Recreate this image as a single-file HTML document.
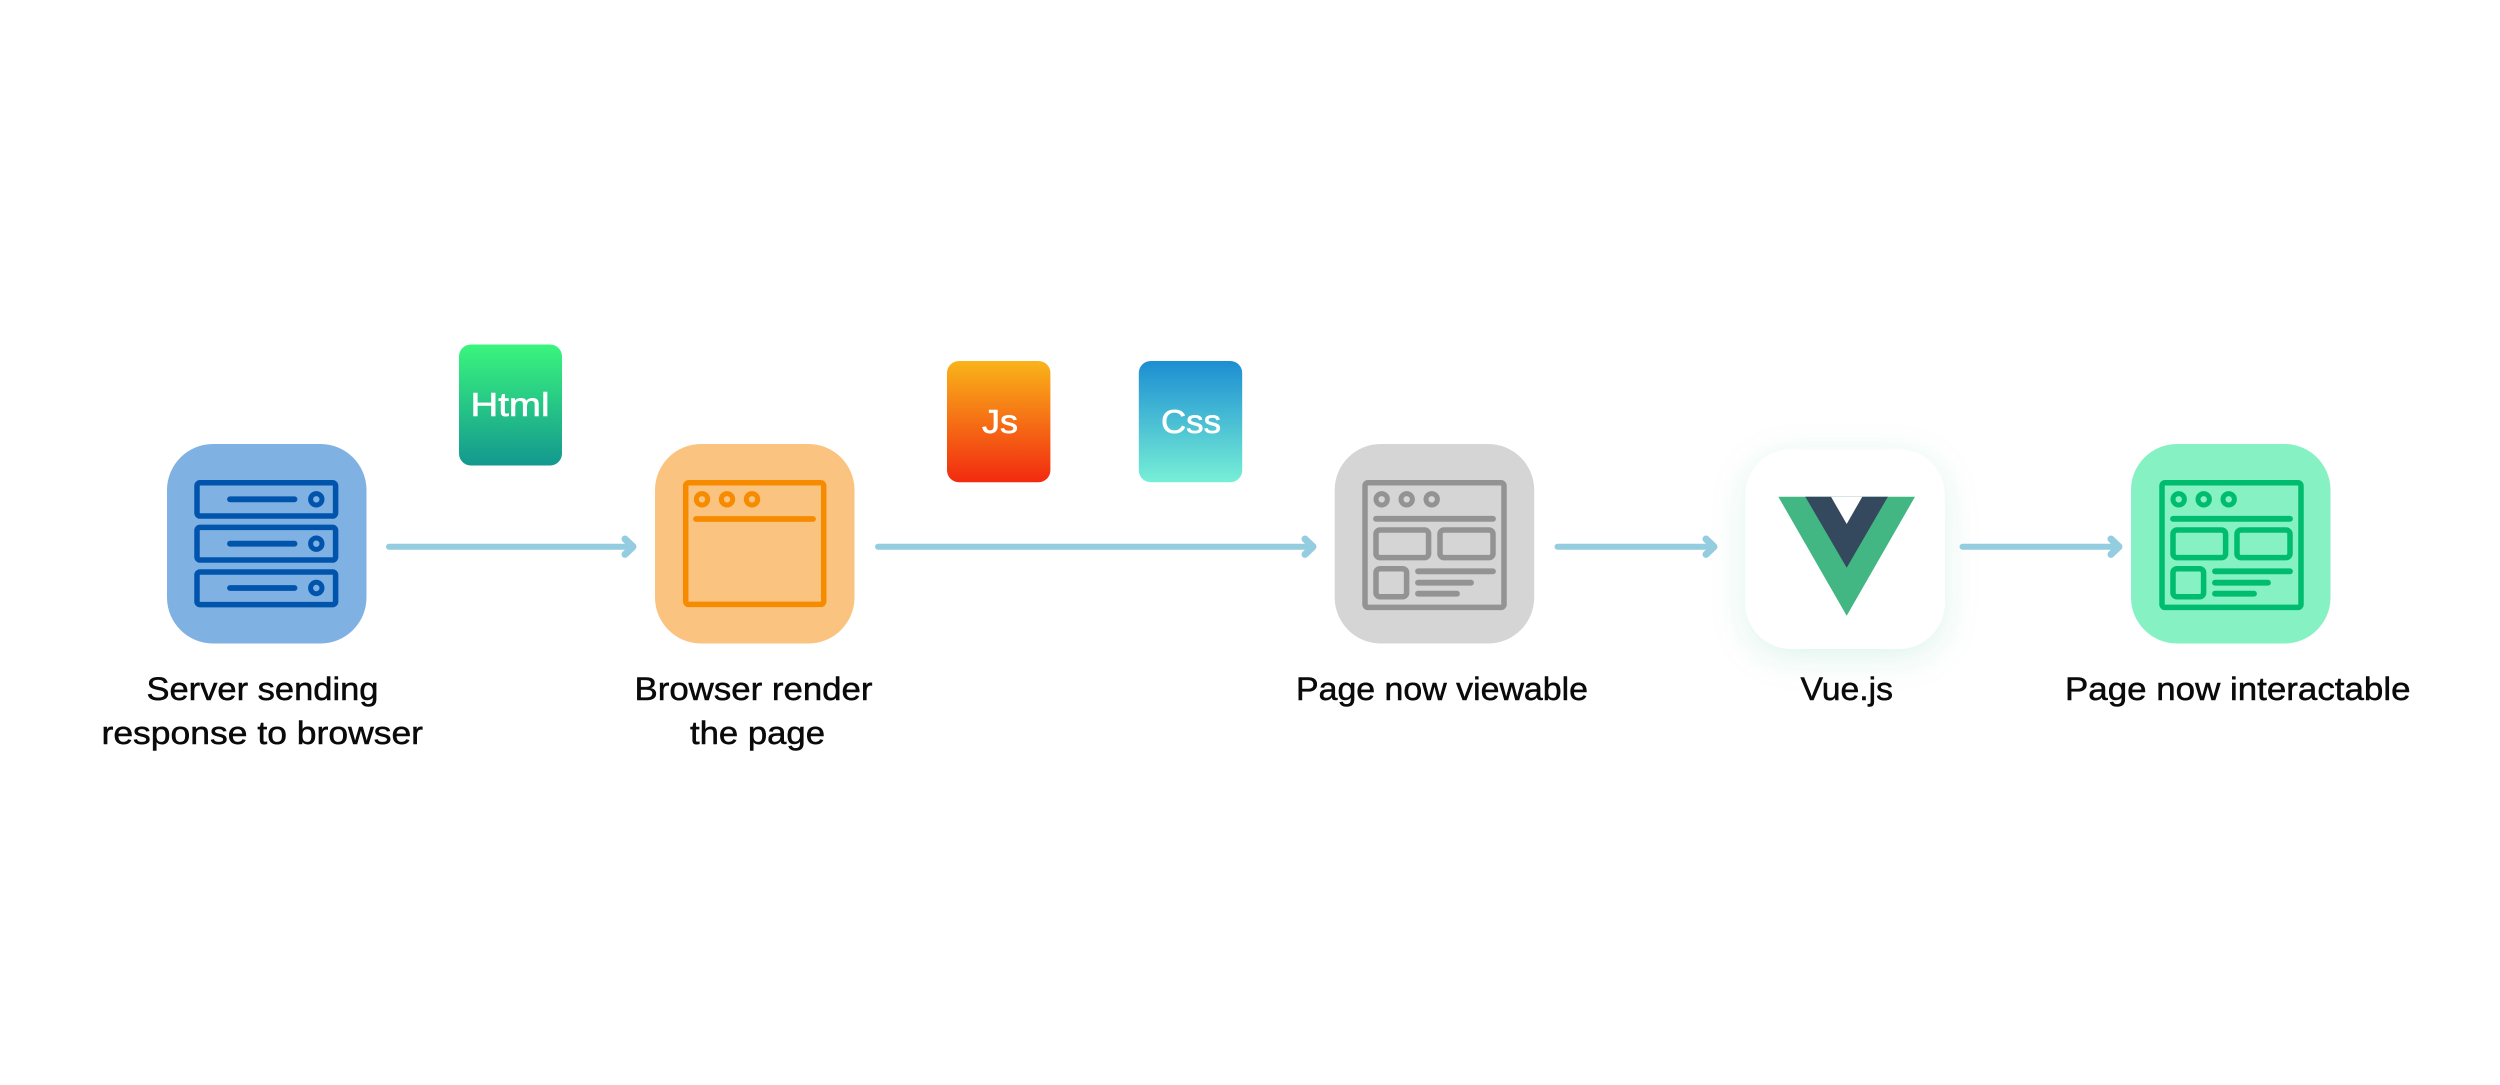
<!DOCTYPE html>
<html><head><meta charset="utf-8"><style>
html,body{margin:0;padding:0;background:#fff;width:2500px;height:1085px;overflow:hidden}
svg{display:block}
text{font-family:"Liberation Sans",sans-serif}
.l{font-size:32.5px;fill:#0a0a0a;stroke:#0a0a0a;stroke-width:.5}
.b{font-size:33px;fill:#fff;stroke:#fff;stroke-width:.6}
</style></head><body>
<svg width="2500" height="1085" viewBox="0 0 2500 1085" xmlns="http://www.w3.org/2000/svg">
<defs>
<linearGradient id="gh" x1="0" y1="0" x2="0" y2="1"><stop offset="0" stop-color="#3AF57D"/><stop offset="1" stop-color="#13988F"/></linearGradient>
<linearGradient id="gj" x1="0" y1="0" x2="0" y2="1"><stop offset="0" stop-color="#F9B41A"/><stop offset="1" stop-color="#F22A10"/></linearGradient>
<linearGradient id="gc" x1="0" y1="0" x2="0" y2="1"><stop offset="0" stop-color="#1C8ED2"/><stop offset="1" stop-color="#77EFD6"/></linearGradient>
<filter id="sh" x="-40%" y="-40%" width="180%" height="180%"><feDropShadow dx="0" dy="8" stdDeviation="16" flood-color="#42B883" flood-opacity=".17"/></filter>
<g id="page" fill="none" stroke-width="5.5">
  <rect x="1365" y="482.8" width="139" height="124.6" rx="3"/>
  <circle cx="1381.7" cy="499.3" r="5.7" stroke-width="5"/><circle cx="1406.7" cy="499.3" r="5.7" stroke-width="5"/><circle cx="1431.7" cy="499.3" r="5.7" stroke-width="5"/>
  <line x1="1376" y1="518.8" x2="1493" y2="518.8" stroke-linecap="round" stroke-width="5.8"/>
  <rect x="1376" y="530" width="52.6" height="27.6" rx="4"/>
  <rect x="1440" y="530" width="53" height="27.6" rx="4"/>
  <rect x="1376" y="568.7" width="30.6" height="28" rx="4"/>
  <g stroke-linecap="round" stroke-width="5.8">
    <line x1="1418" y1="571.3" x2="1493" y2="571.3"/>
    <line x1="1418" y1="582.7" x2="1471" y2="582.7"/>
    <line x1="1418" y1="593.7" x2="1457" y2="593.7"/>
  </g>
</g>
</defs>

<!-- Server -->
<rect x="167" y="444" width="199.5" height="199.5" rx="46" fill="#80B1E3"/>
<g fill="none" stroke="#0054AC" stroke-width="5.5">
  <rect x="197" y="482.8" width="138.6" height="33.2" rx="3"/>
  <rect x="197" y="527.4" width="138.6" height="32.6" rx="3"/>
  <rect x="197" y="572" width="138.6" height="32.6" rx="3"/>
  <circle cx="316.3" cy="499.3" r="5.7" stroke-width="5"/><circle cx="316.3" cy="543.7" r="5.7" stroke-width="5"/><circle cx="316.3" cy="588" r="5.7" stroke-width="5"/>
  <g stroke-linecap="round" stroke-width="5.8">
    <line x1="230" y1="499.3" x2="294.5" y2="499.3"/>
    <line x1="230" y1="543.7" x2="294.5" y2="543.7"/>
    <line x1="230" y1="588" x2="294.5" y2="588"/>
  </g>
</g>

<!-- Browser -->
<rect x="655" y="444" width="199.5" height="199.5" rx="46" fill="#FAC480"/>
<g fill="none" stroke="#F78B00" stroke-width="5.5">
  <rect x="685.7" y="482.8" width="138" height="121.6" rx="3"/>
  <circle cx="702" cy="499.3" r="5.7" stroke-width="5"/><circle cx="727" cy="499.3" r="5.7" stroke-width="5"/><circle cx="752" cy="499.3" r="5.7" stroke-width="5"/>
  <line x1="696" y1="519" x2="813" y2="519" stroke-linecap="round" stroke-width="5.8"/>
</g>

<!-- Page viewable -->
<rect x="1334.7" y="444" width="199.5" height="199.5" rx="46" fill="#D5D5D5"/>
<use href="#page" stroke="#939393"/>

<!-- Vue -->
<rect x="1745.2" y="449.5" width="199.6" height="199.5" rx="46" fill="#fff" filter="url(#sh)"/>
<polygon points="1778.3,496.7 1915,496.7 1846.7,615.7" fill="#42B784" />
<polygon points="1805.3,496.7 1887.9,496.7 1846.7,567.7" fill="#35495E"/>
<polygon points="1831,496.7 1862.3,496.7 1846.7,524" fill="#fff"/>

<!-- Page interactable -->
<rect x="2131" y="444" width="199.5" height="199.5" rx="46" fill="#86F1C3"/>
<use href="#page" x="797" stroke="#00BC6E"/>

<!-- File tiles -->
<rect x="459" y="344.5" width="103" height="121" rx="12" fill="url(#gh)"/>
<rect x="947" y="361" width="103.4" height="121.3" rx="12" fill="url(#gj)"/>
<rect x="1138.8" y="361" width="103.4" height="121.3" rx="12" fill="url(#gc)"/>
<text class="b" x="470.5" y="416" textLength="79" lengthAdjust="spacingAndGlyphs">Html</text>
<text class="b" x="982" y="433" textLength="36" lengthAdjust="spacingAndGlyphs">Js</text>
<text class="b" x="1161" y="433" textLength="60" lengthAdjust="spacingAndGlyphs">Css</text>

<!-- Arrows -->
<g fill="none" stroke="#93CDDF" stroke-linecap="round" stroke-linejoin="round">
  <path stroke-width="6" d="M389 546.7H631M878 546.7H1311M1557.5 546.7H1712M1962.5 546.7H2117"/>
  <g stroke-width="7">
    <path d="M625 539l8 7.7-8 7.7"/>
    <path d="M1305 539l8 7.7-8 7.7"/>
    <path d="M1706 539l8 7.7-8 7.7"/>
    <path d="M2111 539l8 7.7-8 7.7"/>
  </g>
</g>

<!-- Labels -->
<text class="l" x="146.5" y="700" textLength="232" lengthAdjust="spacingAndGlyphs">Server sending</text>
<text class="l" x="101.5" y="744.2" textLength="321.5" lengthAdjust="spacingAndGlyphs">response to browser</text>
<text class="l" x="634.5" y="700" textLength="238" lengthAdjust="spacingAndGlyphs">Browser render</text>
<text class="l" x="690" y="744.2" textLength="135" lengthAdjust="spacingAndGlyphs">the page</text>
<text class="l" x="1296" y="700" textLength="292" lengthAdjust="spacingAndGlyphs">Page now viewable</text>
<text class="l" x="1800.5" y="700" textLength="92.5" lengthAdjust="spacingAndGlyphs">Vue.js</text>
<text class="l" x="2065" y="700" textLength="345.5" lengthAdjust="spacingAndGlyphs">Page now interactable</text>
</svg>
</body></html>
